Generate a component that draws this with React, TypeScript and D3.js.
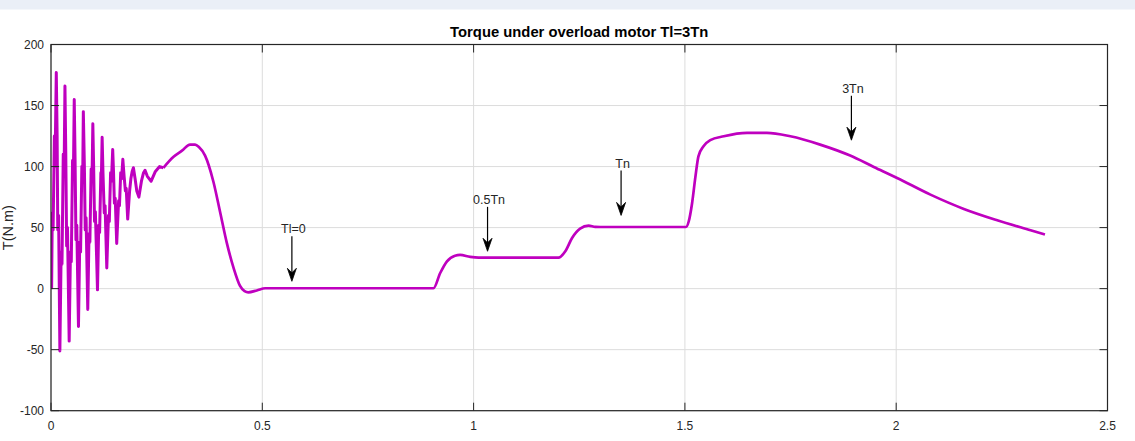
import React from "react";
import * as d3 from "d3";

// ---- data (t in seconds, T in N.m) ----
const startup: [number, number][] = [
  [0, 0], [0.0015, 1], [0.003, 62], [0.005, 48], [0.008, 125], [0.0095, 100], [0.0125, 177], [0.0145, 125], [0.016, 48], [0.018, 60], [0.021, -51],
  [0.024, 30], [0.026, 20], [0.029, 110], [0.031, 95], [0.033, 166], [0.035, 110], [0.037, 35], [0.039, 50], [0.043, -43],
  [0.046, 30], [0.048, 22], [0.051, 105], [0.053, 92], [0.055, 155], [0.057, 105], [0.059, 40], [0.061, 52], [0.065, -31],
  [0.068, 38], [0.07, 30], [0.073, 100], [0.075, 90], [0.0765, 145], [0.079, 100], [0.081, 48], [0.083, 58], [0.087, -17],
  [0.09, 45], [0.092, 38], [0.095, 98], [0.097, 88], [0.099, 135], [0.101, 98], [0.103, 55], [0.105, 63], [0.11, -1],
  [0.113, 52], [0.115, 46], [0.118, 95], [0.119, 88], [0.121, 124], [0.123, 95], [0.126, 62], [0.128, 68], [0.132, 17],
  [0.136, 60], [0.138, 55], [0.141, 95], [0.143, 88], [0.146, 114], [0.148, 95], [0.15, 70], [0.152, 74], [0.1555, 37],
  [0.16, 72], [0.162, 68], [0.165, 95], [0.167, 90], [0.17, 106], [0.173, 92], [0.176, 80], [0.178, 82], [0.1815, 57],
  [0.186, 80], [0.189, 90], [0.192, 96], [0.195, 99], [0.199, 90], [0.203, 80], [0.208, 75],
  [0.214, 88], [0.219, 95], [0.2225, 97], [0.228, 92], [0.237, 88],
  [0.247, 96], [0.257, 100], [0.266, 99],
];
const runUp: [number, number][] = [
  [0.266, 99], [0.29, 108], [0.31, 113], [0.329, 118], [0.341, 118], [0.35, 116],
  [0.3646, 109], [0.384, 88], [0.4, 63], [0.416, 37.5], [0.432, 17], [0.447, 2.5], [0.458, -2], [0.467, -3],
  [0.487, -1.5], [0.507, 0.3],
];
const noLoad: [number, number][] = [
  [0.52, 0.3], [0.905, 0.3], [0.921, 12.8], [0.937, 22.4], [0.956, 27], [0.968, 27.6], [0.992, 26], [1.012, 25.4],
];
const halfLoad: [number, number][] = [
  [1.201, 25.4], [1.217, 30.6], [1.233, 41.5], [1.252, 49.2], [1.272, 51.6], [1.288, 50.6], [1.3, 50.5],
];
const fullLoad: [number, number][] = [
  [1.5025, 50.5], [1.509, 55], [1.517, 70], [1.525, 92], [1.532, 108.4], [1.544, 116.6], [1.56, 121.6], [1.592, 124.8],
];
const overload: [number, number][] = [
  [1.647, 127.6], [1.694, 127.6], [1.7495, 124.8], [1.82, 118], [1.891, 109], [1.947, 99.7], [2.002, 90.7],
  [2.081, 77], [2.16, 65.3], [2.239, 56], [2.318, 47.8], [2.352, 44.3],
];

const xTicks = [0, 0.5, 1, 1.5, 2, 2.5];
const yTicks = [-100, -50, 0, 50, 100, 150, 200];

const annLabels = ["Tl=0", "0.5Tn", "Tn", "3Tn"];
const annTime = [0.57, 1.033, 1.349, 1.894];
const annTail = [43, 67, 96.7, 158];
const annTip = [6, 30.6, 60, 121.6];

const title = "Torque under overload motor Tl=3Tn";
const xLabel = "t(s)";
const yLabel = "T(N.m)";

const W = 1135;
const H = 441;
const FONT = "'Liberation Sans', Arial, Helvetica, sans-serif";
const INK = "#262626";

export default function App() {
  const left = 51, right = 1107.5, top = 44.5, bottom = 410.7;
  const x = d3.scaleLinear().domain([0, 2.5]).range([left, right]);
  const y = d3.scaleLinear().domain([-100, 200]).range([bottom, top]);
  const smooth = [...runUp, ...noLoad, ...halfLoad, ...fullLoad, ...overload];
  const linear = d3
    .line<[number, number]>()
    .x((d) => x(d[0]))
    .y((d) => y(d[1]));
  const curved = d3
    .line<[number, number]>()
    .x((d) => x(d[0]))
    .y((d) => y(d[1]))
    .curve(d3.curveMonotoneX);
  const tick = 8;
  const color = "#BF00BF";

  return (
    <svg
      width={W}
      height={H}
      style={{ position: "absolute", left: 0, top: 0, background: "#fff" }}
      fontFamily={FONT}
    >
      <rect x={0} y={0} width={W} height={H} fill="#fff" />
      <rect x={0} y={0} width={W} height={9.5} fill="#EAEFF7" />
      <defs>
        <clipPath id="plotClip">
          <rect x={left} y={top} width={right - left} height={bottom - top} />
        </clipPath>
      </defs>
      {/* grid */}
      {xTicks.map((t) => (
        <line key={"gx" + t} x1={x(t)} x2={x(t)} y1={top} y2={bottom} stroke="#DCDCDC" strokeWidth={1} />
      ))}
      {yTicks.map((t) => (
        <line key={"gy" + t} x1={left} x2={right} y1={y(t)} y2={y(t)} stroke="#DCDCDC" strokeWidth={1} />
      ))}
      {/* curve */}
      <g clipPath="url(#plotClip)" fill="none" stroke={color} strokeLinejoin="round">
        <path d={linear(startup) || ""} strokeWidth={3} />
        <path d={curved(smooth) || ""} strokeWidth={2.7} />
      </g>
      {/* box */}
      <rect x={left} y={top} width={right - left} height={bottom - top} fill="none" stroke={INK} strokeWidth={1.2} />
      {/* ticks */}
      {xTicks.map((t) => (
        <g key={"tx" + t}>
          <line x1={x(t)} x2={x(t)} y1={bottom} y2={bottom - tick} stroke={INK} strokeWidth={1} />
          <line x1={x(t)} x2={x(t)} y1={top} y2={top + tick} stroke={INK} strokeWidth={1} />
          <text x={x(t)} y={bottom + 19} textAnchor="middle" fontSize={12} fill={INK}>
            {String(t)}
          </text>
        </g>
      ))}
      {yTicks.map((t) => (
        <g key={"ty" + t}>
          <line x1={left} x2={left + tick} y1={y(t)} y2={y(t)} stroke={INK} strokeWidth={1} />
          <line x1={right} x2={right - tick} y1={y(t)} y2={y(t)} stroke={INK} strokeWidth={1} />
          <text x={left - 7} y={y(t) + 4.3} textAnchor="end" fontSize={12} fill={INK}>
            {String(t)}
          </text>
        </g>
      ))}
      {/* annotations */}
      {annLabels.map((lab, i) => {
        const ax = x(annTime[i]);
        const y0 = y(annTail[i]);
        const y1 = y(annTip[i]);
        const head = `M${ax},${y1} L${ax - 4.5},${y1 - 13} L${ax},${y1 - 8.5} L${ax + 4.5},${y1 - 13} Z`;
        return (
          <g key={lab}>
            <line x1={ax} x2={ax} y1={y0} y2={y1 - 6} stroke="#000" strokeWidth={1.2} />
            <path d={head} fill="#000" stroke="#000" strokeWidth={0.8} strokeLinejoin="miter" />
            <text x={ax + 1.5} y={y0 - 3} textAnchor="middle" fontSize={12.5} fill={INK}>
              {lab}
            </text>
          </g>
        );
      })}
      {/* title and labels */}
      <text x={(left + right) / 2} y={36.5} textAnchor="middle" fontSize={14.8} fontWeight="bold" fill="#000">
        {title}
      </text>
      <text x={(left + right) / 2} y={452} textAnchor="middle" fontSize={14} fill={INK}>
        {xLabel}
      </text>
      <text
        transform={`translate(13, ${(top + bottom) / 2}) rotate(-90)`}
        textAnchor="middle"
        fontSize={14.5}
        fill={INK}
      >
        {yLabel}
      </text>
    </svg>
  );
}
